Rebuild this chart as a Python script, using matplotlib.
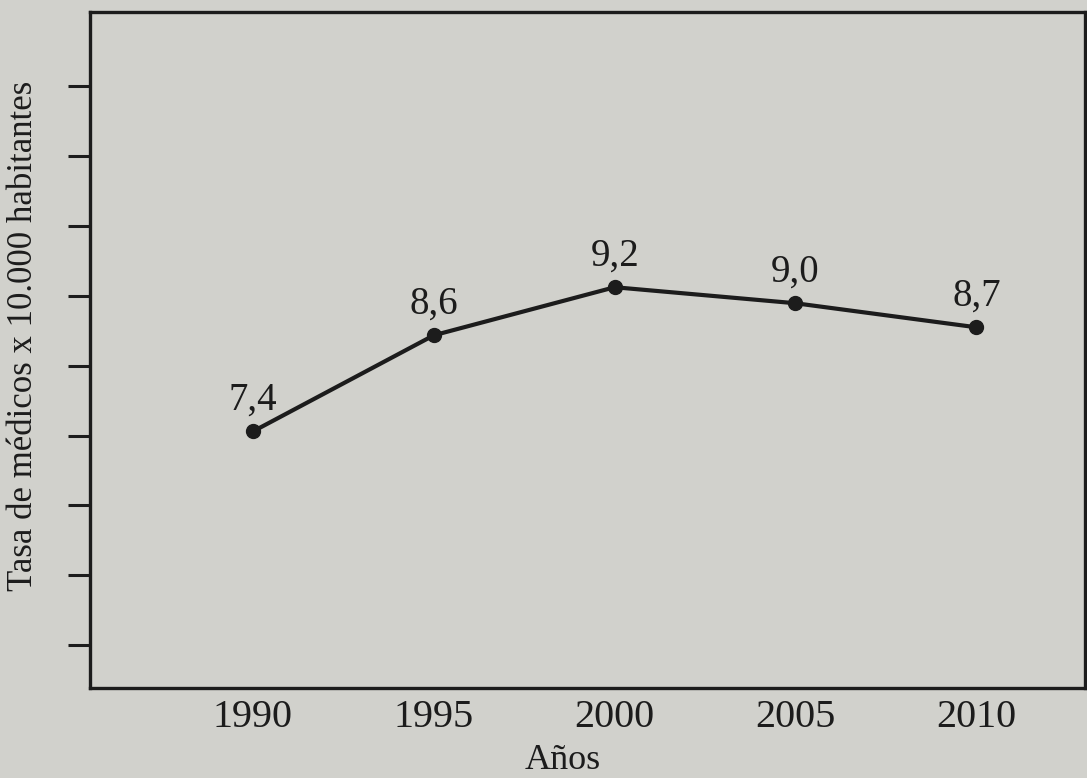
import matplotlib.pyplot as plt
import numpy as np

# data
anios = [1990, 1995, 2000, 2005, 2010]
tasa = [7.4, 8.6, 9.2, 9.0, 8.7]

paper = '#d1d1cc'
ink = '#1c1c1c'

plt.rcParams['font.family'] = ['Liberation Serif', 'DejaVu Serif']

fig = plt.figure(figsize=(10.87, 7.78), dpi=100, facecolor=paper)
ax = fig.add_axes([0.083, 0.116, 0.915, 0.869])
ax.set_facecolor(paper)

ax.plot(anios, tasa, color=ink, lw=3, marker='o', ms=10, mfc=ink, mec=ink)
for a, t in zip(anios, tasa):
    ax.annotate(f'{t:.1f}'.replace('.', ','), (a, t), xytext=(0, 9),
                textcoords='offset points', ha='center', va='bottom',
                fontsize=28, color=ink)

ax.set_xlim(1985.5, 2013.0)
ax.set_ylim(4.2, 12.64)
ax.set_xticks(anios)
ax.set_xticklabels([str(a) for a in anios], fontsize=29, color=ink)
ax.tick_params(axis='x', length=0, pad=8)

# unlabeled ticks on the left axis
ax.set_yticks(np.arange(4.73, 12.0, 0.873))
ax.set_yticklabels([])
ax.tick_params(axis='y', direction='out', length=16, width=2.2, color=ink)

for s in ax.spines.values():
    s.set_color(ink)
    s.set_linewidth(2.4)

ax.set_xlabel('Años', fontsize=26, color=ink)
ax.xaxis.set_label_coords(0.475, -0.083)
ax.set_ylabel('Tasa de médicos x 10.000 habitantes', fontsize=25, color=ink)
ax.yaxis.set_label_coords(-0.05, 0.52)

fig.savefig('out.png', dpi=100, facecolor=paper)
